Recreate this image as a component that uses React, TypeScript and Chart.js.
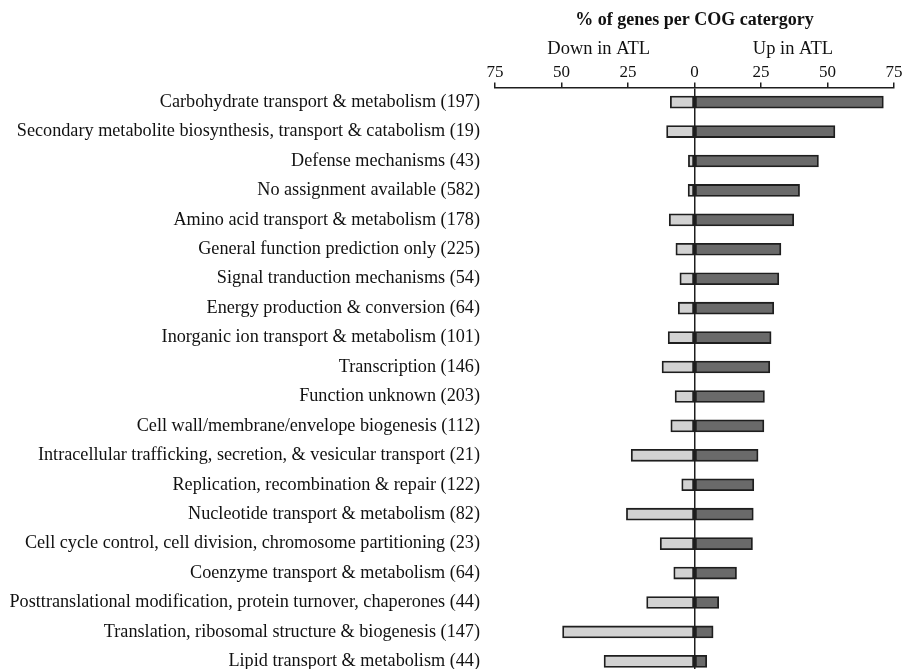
import React, { useEffect, useRef } from "react";
import { Chart, registerables } from "chart.js";

Chart.register(...registerables);

const categories: string[] = [
  "Carbohydrate transport & metabolism (197)",
  "Secondary metabolite biosynthesis, transport & catabolism (19)",
  "Defense mechanisms (43)",
  "No assignment available (582)",
  "Amino acid transport & metabolism (178)",
  "General function prediction only (225)",
  "Signal tranduction mechanisms (54)",
  "Energy production & conversion (64)",
  "Inorganic ion transport & metabolism (101)",
  "Transcription (146)",
  "Function unknown (203)",
  "Cell wall/membrane/envelope biogenesis (112)",
  "Intracellular trafficking, secretion, & vesicular transport (21)",
  "Replication, recombination & repair (122)",
  "Nucleotide transport & metabolism (82)",
  "Cell cycle control, cell division, chromosome partitioning (23)",
  "Coenzyme transport & metabolism (64)",
  "Posttranslational modification, protein turnover, chaperones (44)",
  "Translation, ribosomal structure & biogenesis (147)",
  "Lipid transport & metabolism (44)",
];

// % of genes per category that are up-regulated in ATL
const upInATL: number[] = [
  71.0, 52.8, 46.6, 39.5, 37.3, 32.5, 31.7, 29.8, 28.8, 28.3,
  26.3, 26.1, 23.9, 22.3, 22.1, 21.8, 15.8, 9.1, 7.0, 4.6,
];

// % of genes per category that are down-regulated in ATL (plotted to the left)
const downInATL: number[] = [
  9.1, 10.5, 2.3, 2.4, 9.5, 7.0, 5.5, 6.1, 9.9, 12.2,
  7.3, 8.9, 23.8, 4.8, 25.6, 12.9, 7.8, 18.0, 49.6, 34.0,
];

const xTicks: number[] = [-75, -50, -25, 0, 25, 50, 75];

const chartTitle = "% of genes per COG catergory";
const downLabel = "Down in ATL";
const upLabel = "Up in ATL";

const FONT = "'Liberation Serif', 'Times New Roman', serif";

const headerPlugin = {
  id: "header",
  afterDraw(chart: any) {
    const { ctx } = chart;
    const x = chart.scales.x;
    ctx.save();
    ctx.fillStyle = "#111";
    ctx.textAlign = "center";
    ctx.textBaseline = "alphabetic";
    ctx.font = `bold 18px ${FONT}`;
    ctx.fillText(chartTitle, x.getPixelForValue(0), 25);
    ctx.font = `18.5px ${FONT}`;
    ctx.fillText(downLabel, x.getPixelForValue(-36), 54);
    ctx.fillText(upLabel, x.getPixelForValue(37), 54);
    ctx.restore();
  },
};

export default function App() {
  const canvasRef = useRef<HTMLCanvasElement | null>(null);

  useEffect(() => {
    if (!canvasRef.current) return;
    const chart = new Chart(canvasRef.current, {
      type: "bar",
      data: {
        labels: categories,
        datasets: [
          {
            label: downLabel,
            data: downInATL.map((v) => -v),
            backgroundColor: "#d2d2d2",
            borderColor: "#1e1e1e",
            borderWidth: 1.8,
            borderSkipped: false,
            barThickness: 12,
            grouped: false,
          },
          {
            label: upLabel,
            data: upInATL,
            backgroundColor: "#6a6a6a",
            borderColor: "#1e1e1e",
            borderWidth: 1.8,
            borderSkipped: false,
            barThickness: 12,
            grouped: false,
          },
        ],
      },
      options: {
        indexAxis: "y",
        responsive: false,
        animation: false,
        layout: { padding: { top: 62, left: 8, right: 10, bottom: 0 } },
        plugins: {
          legend: { display: false },
          tooltip: { enabled: false },
        },
        scales: {
          x: {
            position: "top",
            min: -75,
            max: 75,
            afterBuildTicks: (scale: any) => {
              scale.ticks = xTicks.map((v) => ({ value: v }));
            },
            ticks: {
              color: "#111",
              font: { family: FONT, size: 17 },
              padding: 0,
              maxRotation: 0,
              callback: (v: any) => String(Math.abs(Number(v))),
            },
            grid: {
              drawOnChartArea: true,
              color: (c: any) => (c.tick && c.tick.value === 0 ? "#1e1e1e" : "rgba(0,0,0,0)"),
              lineWidth: 1.5,
              tickColor: "#1e1e1e",
              tickLength: 5,
            },
            border: { display: true, color: "#1e1e1e", width: 1.5 },
          },
          y: {
            // room for the long category names (label column + gap to the plot)
            afterFit: (scale: any) => {
              scale.width = 487;
            },
            ticks: {
              color: "#111",
              font: { family: FONT, size: 18.2 },
              padding: 0,
              autoSkip: false,
            },
            grid: {
              display: true,
              drawOnChartArea: false,
              drawTicks: true,
              tickLength: 15,
              tickColor: "rgba(0,0,0,0)",
              color: "rgba(0,0,0,0)",
            },
            border: { display: false },
          },
        },
      },
      plugins: [headerPlugin],
    });
    return () => chart.destroy();
  }, []);

  return (
    <div
      style={{
        position: "fixed",
        top: 0,
        left: 0,
        width: 904,
        height: 669,
        overflow: "hidden",
        background: "#fff",
      }}
    >
      <canvas ref={canvasRef} width={904} height={687} style={{ display: "block" }} />
    </div>
  );
}
